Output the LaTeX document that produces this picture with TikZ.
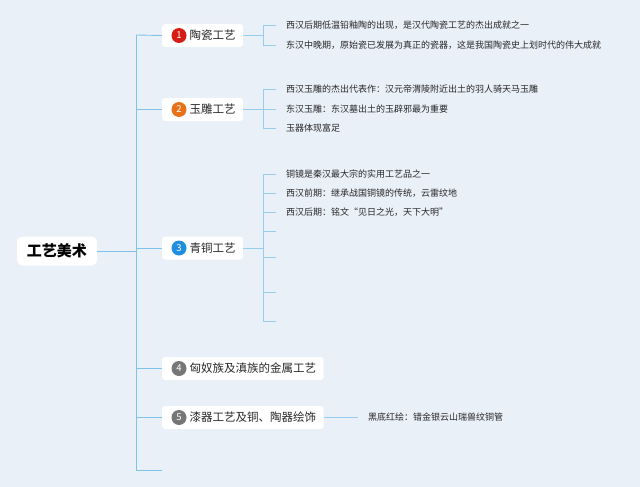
\documentclass[tikz,border=0pt]{standalone}
\usepackage{xcolor}
\usepackage{fontspec}
\usepackage{tikz}
\usetikzlibrary{positioning,calc}
\newfontfamily\cjk{Noto Sans CJK SC}
\definecolor{bgblue}{RGB}{234,240,248}
\definecolor{linkblue}{RGB}{128,194,234}
\definecolor{leafblue}{RGB}{150,204,238}
\definecolor{txtgray}{RGB}{40,40,40}
\definecolor{numred}{RGB}{214,28,20}
\definecolor{numorange}{RGB}{232,112,22}
\definecolor{numblue}{RGB}{32,142,222}
\definecolor{numgray}{RGB}{118,118,118}

\begin{document}
\begin{tikzpicture}[x=1pt, y=-1pt,
        every node/.style={font=\cjk, text=txtgray},
        rootbox/.style={rectangle, fill=white, rounded corners=6pt, minimum width=80pt, minimum height=29pt, font=\cjk\bfseries\fontsize{15}{17}\selectfont, text=black},
        catbox/.style={rectangle, fill=white, rounded corners=3pt, anchor=west, minimum height=23pt, inner xsep=7.5pt, font=\cjk\fontsize{11.5}{13}\selectfont},
        numdot/.style={circle, inner sep=0pt, minimum size=15pt, font=\cjk\fontsize{9.5}{10}\selectfont, text=white},
        leaf/.style={anchor=west, inner xsep=10pt, inner ysep=2pt, font=\cjk\fontsize{9}{11}\selectfont},
        link/.style={draw=linkblue, line width=0.9pt},
        leaflink/.style={draw=leafblue, line width=0.7pt},
      ]
      \useasboundingbox [fill=bgblue] (0,0) rectangle (640,487);
      % Root and trunk
      \node [rootbox] (root) at (57,251) {工艺美术};
      \coordinate (ttop) at (136,35);
      \coordinate (tbot) at (136,470);
      \coordinate (tend) at (162,470);
      \coordinate (jx) at (263,0);
      % Categories
      \node [catbox] (cat1) at (162,35.5) {\hspace{20pt}陶瓷工艺};
      \node [catbox] (cat2) at (162,109.5) {\hspace{20pt}玉雕工艺};
      \node [catbox] (cat3) at (162,248) {\hspace{20pt}青铜工艺};
      \node [catbox] (cat4) at (162,368.5) {\hspace{20pt}匈奴族及滇族的金属工艺};
      \node [catbox] (cat5) at (162,417.5) {\hspace{20pt}漆器工艺及铜、陶器绘饰};
      \node [numdot, fill=numred] (dot1) at ([xshift=17pt]cat1.west) {1};
      \node [numdot, fill=numorange] (dot2) at ([xshift=17pt]cat2.west) {2};
      \node [numdot, fill=numblue] (dot3) at ([xshift=17pt]cat3.west) {3};
      \node [numdot, fill=numgray] (dot4) at ([xshift=17pt]cat4.west) {4};
      \node [numdot, fill=numgray] (dot5) at ([xshift=17pt]cat5.west) {5};
      % Leaves
      \node [leaf] (l1a) at (276,25) {西汉后期低温铅釉陶的出现，是汉代陶瓷工艺的杰出成就之一};
      \node [leaf] (l1b) at (276,45) {东汉中晚期，原始瓷已发展为真正的瓷器，这是我国陶瓷史上划时代的伟大成就};
      \node [leaf] (l2a) at (276,89.5) {西汉玉雕的杰出代表作：汉元帝渭陵附近出土的羽人骑天马玉雕};
      \node [leaf] (l2b) at (276,109) {东汉玉雕：东汉墓出土的玉辟邪最为重要};
      \node [leaf] (l2c) at (276,128.5) {玉器体现富足};
      \node [leaf] (l3a) at (276,174) {铜镜是秦汉最大宗的实用工艺品之一};
      \node [leaf] (l3b) at (276,193) {西汉前期：继承战国铜镜的传统，云雷纹地};
      \node [leaf] (l3c) at (276,212) {西汉后期：铭文“见日之光，天下大明”};
      \coordinate (e3d) at (276,231);
      \coordinate (e3e) at (276,257);
      \coordinate (e3f) at (276,292);
      \coordinate (e3g) at (276,321);
      \node [leaf] (l5a) at (358,417.5) {黑底红绘：错金银云山瑞兽纹铜管};
      % Trunk links
      \draw [link] (root.east) -- (root.east -| ttop);
      \draw [link] (ttop) -- (tbot) -- (tend);
      \draw [link] (ttop) -- (cat1.west);
      \draw [link] (cat2.west -| ttop) -- (cat2.west);
      \draw [link] (cat3.west -| ttop) -- (cat3.west);
      \draw [link] (cat4.west -| ttop) -- (cat4.west);
      \draw [link] (cat5.west -| ttop) -- (cat5.west);
      % Leaf links
      \draw [leaflink] (cat1.east) -- (cat1.east -| jx);
      \draw [leaflink] (l1a.west) -- (l1a.west -| jx) -- (l1b.west -| jx) -- (l1b.west);
      \draw [leaflink] (cat2.east) -- (cat2.east -| jx);
      \draw [leaflink] (l2a.west) -- (l2a.west -| jx) -- (l2c.west -| jx) -- (l2c.west);
      \draw [leaflink] (l2b.west -| jx) -- (l2b.west);
      \draw [leaflink] (cat3.east) -- (cat3.east -| jx);
      \draw [leaflink] (l3a.west) -- (l3a.west -| jx) -- (e3g -| jx) -- (e3g);
      \draw [leaflink] (l3b.west -| jx) -- (l3b.west);
      \draw [leaflink] (l3c.west -| jx) -- (l3c.west);
      \draw [leaflink] (e3d -| jx) -- (e3d);
      \draw [leaflink] (e3e -| jx) -- (e3e);
      \draw [leaflink] (e3f -| jx) -- (e3f);
      \draw [leaflink] (cat5.east) -- (l5a.west);
    \end{tikzpicture}
\end{document}
